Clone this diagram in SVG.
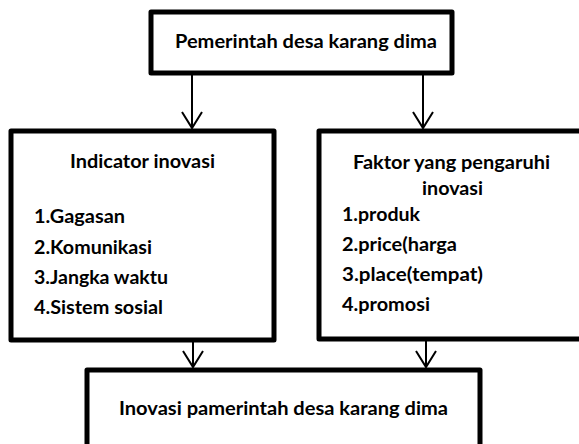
<svg xmlns="http://www.w3.org/2000/svg" width="579" height="444" viewBox="0 0 579 444">
<style>
.box{fill:#fff;stroke:#000;stroke-width:5;stroke-linejoin:round}
.t{font-family:Lato,"Liberation Sans",sans-serif;font-weight:bold;font-size:19.5px;fill:#000}
.c{fill:none;stroke:#000;stroke-width:2}
</style>
<defs>
<marker id="v" markerUnits="userSpaceOnUse" viewBox="-18 -12 20 24" markerWidth="20" markerHeight="24" refX="0" refY="0" orient="auto" overflow="visible">
<path d="M-16,-10 L0,0 L-16,10" fill="none" stroke="#000" stroke-width="2"/>
</marker>
</defs>
<rect width="579" height="444" fill="#fff"/>
<g id="connectors">
<line class="c" x1="192" y1="75" x2="192" y2="128" marker-end="url(#v)"/>
<line class="c" x1="423" y1="75" x2="423" y2="128" marker-end="url(#v)"/>
<line class="c" x1="193" y1="342" x2="193" y2="367" marker-end="url(#v)"/>
<line class="c" x1="426" y1="341" x2="426" y2="367" marker-end="url(#v)"/>
</g>
<g id="top">
<rect class="box" x="151" y="12" width="301" height="61"/>
<text class="t" x="175" y="48" textLength="262" lengthAdjust="spacingAndGlyphs">Pemerintah desa karang dima</text>
</g>
<g id="indicator">
<rect class="box" x="11" y="131" width="263" height="209"/>
<text class="t" x="70" y="168" textLength="145" lengthAdjust="spacingAndGlyphs">Indicator inovasi</text>
<text class="t" x="34" y="223" textLength="91" lengthAdjust="spacingAndGlyphs">1.Gagasan</text>
<text class="t" x="34" y="254" textLength="118" lengthAdjust="spacingAndGlyphs">2.Komunikasi</text>
<text class="t" x="34" y="284" textLength="134" lengthAdjust="spacingAndGlyphs">3.Jangka waktu</text>
<text class="t" x="34" y="314" textLength="129" lengthAdjust="spacingAndGlyphs">4.Sistem sosial</text>
</g>
<g id="faktor">
<rect class="box" x="319" y="131" width="266" height="208"/>
<text class="t" x="353" y="169" textLength="197" lengthAdjust="spacingAndGlyphs">Faktor yang pengaruhi</text>
<text class="t" x="422" y="195" textLength="61" lengthAdjust="spacingAndGlyphs">inovasi</text>
<text class="t" x="342" y="221" textLength="78" lengthAdjust="spacingAndGlyphs">1.produk</text>
<text class="t" x="342" y="251" textLength="115" lengthAdjust="spacingAndGlyphs">2.price(harga</text>
<text class="t" x="342" y="281" textLength="141" lengthAdjust="spacingAndGlyphs">3.place(tempat)</text>
<text class="t" x="342" y="311" textLength="88" lengthAdjust="spacingAndGlyphs">4.promosi</text>
</g>
<g id="inovasi">
<rect class="box" x="87" y="370" width="393" height="100"/>
<text class="t" x="119" y="415" textLength="329" lengthAdjust="spacingAndGlyphs">Inovasi pamerintah desa karang dima</text>
</g>
</svg>
